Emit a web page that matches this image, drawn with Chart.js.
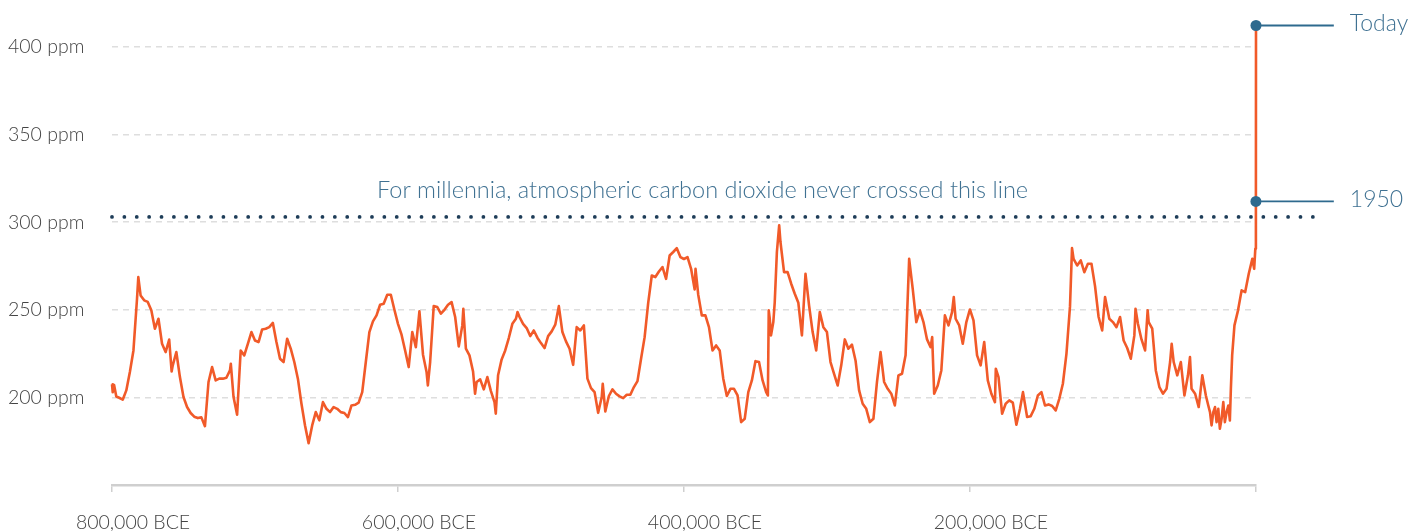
<!DOCTYPE html>
<html>
<head>
<meta charset="utf-8">
<title>Atmospheric carbon dioxide, 800,000 BCE to today</title>
<script src="https://cdn.jsdelivr.net/npm/chart.js@4.4.0/dist/chart.umd.min.js"></script>
<style>
	html, body { margin: 0; padding: 0; background: #fff; }
	#wrap { width: 1426px; height: 531px; }
</style>
</head>
<body>
<div id="wrap"><canvas id="co2Chart" width="1426" height="531"></canvas></div>
<script>
// Age in thousands of years relative to 1950 (negative = before)
const ages = [
	-800, -799.5, -798.5, -797, -795, -792.5, -790, -787.5, -785, -782.5,
	-781.6, -780, -777.5, -775, -772.5, -770, -767.5, -765, -762.5, -760,
	-758.3, -757.5, -755, -752.5, -750, -747.5, -745, -742.5, -740, -737.5,
	-735, -732.5, -730, -727.5, -725, -722.5, -720, -717.5, -716.9, -715,
	-712.5, -710, -707.5, -705, -702.5, -700, -697.5, -695, -692.5, -690,
	-687.5, -685, -682.5, -680, -677.5, -675, -672.5, -670, -667.5, -665,
	-662.5, -660, -657.5, -655, -652.5, -650, -647.5, -645, -642.5, -640,
	-637.5, -635, -632.5, -630, -627.5, -625, -622.5, -620, -617.5, -615,
	-612.5, -610, -607.5, -605, -602.5, -600, -597.5, -595, -592.5, -590,
	-587.5, -585, -582.5, -580, -579.1, -577.5, -575, -572.5, -570, -567.5,
	-565, -562.5, -560, -557.5, -555, -554.3, -552.5, -550, -547.5, -546.1,
	-545, -542.5, -540, -537.5, -535, -532.5, -531.6, -530, -527.5, -525,
	-522.5, -520, -517.5, -516.4, -515, -512.5, -510, -507.5, -505, -502.5,
	-500, -497.5, -495, -492.5, -490, -487.5, -485, -482.5, -480, -477.5,
	-475, -472.5, -470, -467.5, -465, -462.5, -460, -457.5, -456.8, -455,
	-452.5, -450, -447.5, -445, -442.5, -440, -437.5, -435, -432.5, -430,
	-427.5, -425, -422.5, -420, -417.5, -415, -412.5, -410, -407.5, -405,
	-402.5, -400, -397.5, -395, -392.5, -391.9, -390, -387.5, -385, -382.5,
	-380, -377.5, -375, -372.5, -370, -367.5, -365, -362.5, -360, -357.5,
	-355, -352.5, -350, -347.5, -345, -342.5, -341.3, -340.7, -340, -339.1,
	-337.5, -336.5, -335, -333.4, -332.5, -330, -327.5, -325, -322.5, -320,
	-317.5, -315, -312.5, -310, -307.5, -305, -302.5, -300, -297.5, -295,
	-292.5, -290, -287.5, -285, -282.5, -280, -277.5, -275, -272.5, -270,
	-267.5, -265, -262.5, -260, -257.5, -255, -252.5, -250, -247.5, -245,
	-242.5, -240, -237.5, -235, -232.5, -230, -227.5, -226.4, -225, -222.5,
	-220, -217.5, -215, -212.5, -211.3, -210, -207.5, -205, -202.5, -200,
	-197.5, -195, -192.5, -190, -187.5, -185, -182.5, -181.9, -180, -177.5,
	-175, -172.5, -170, -167.5, -165, -162.9, -160, -157.5, -155, -152.5,
	-150, -147.5, -145, -142.5, -140, -137.5, -135, -132.5, -130, -128.6,
	-127.5, -125, -122.5, -120, -117.5, -115, -112.5, -110, -107.5, -105.5,
	-102.5, -100, -97.5, -95, -92.5, -90, -87.5, -85, -84.2, -82.5,
	-80, -77.5, -75.7, -75, -72.5, -70, -67.5, -65, -62.5, -60,
	-58.9, -57.5, -55, -52.5, -50, -47.5, -46.1, -45, -42.5, -40,
	-37.5, -35, -33.3, -32.1, -31, -29.8, -28.6, -27.5, -26.3, -25.2,
	-24, -22.8, -21.7, -20.5, -19.3, -18.2, -17.5, -16.6, -15, -12.5,
	-10, -7.5, -5, -2.5, -1.2, -0.4, 0, 0.07,
];

// CO2 concentration in ppm, one value per age above
const co2 = [
	207.5, 203.0, 207.0, 200.5, 199.8, 198.7, 204.0, 214.5, 226.8, 256.3,
	268.7, 258.2, 255.4, 254.5, 249.7, 239.2, 244.9, 230.6, 225.9, 233.0,
	214.8, 218.3, 225.9, 211.6, 200.2, 194.5, 191.1, 189.0, 188.2, 188.6,
	183.6, 208.8, 217.3, 209.7, 210.7, 210.7, 211.2, 215.4, 219.2, 200.2,
	190.1, 226.8, 224.0, 230.6, 237.3, 232.5, 231.6, 238.8, 239.2, 240.1,
	242.5, 231.6, 222.1, 220.2, 233.5, 227.8, 220.2, 210.7, 196.4, 184.0,
	173.9, 184.0, 191.6, 186.9, 197.3, 193.5, 191.6, 194.5, 193.5, 191.6,
	191.1, 188.8, 195.4, 195.8, 197.0, 203.0, 220.2, 237.3, 243.4, 246.8,
	252.9, 253.5, 258.6, 258.6, 250.0, 242.0, 235.8, 226.8, 217.3, 237.3,
	228.7, 249.1, 224.4, 214.5, 206.8, 220.2, 252.1, 251.6, 247.8, 250.0,
	252.9, 254.4, 245.9, 229.1, 241.1, 250.6, 227.8, 224.0, 214.8, 202.1,
	208.8, 210.3, 204.6, 211.6, 203.6, 197.3, 190.7, 212.6, 221.7, 226.8,
	233.9, 242.0, 244.9, 248.7, 245.9, 242.0, 239.6, 235.0, 238.2, 234.1,
	231.0, 228.2, 235.0, 237.7, 241.5, 252.1, 237.3, 232.0, 227.8, 218.6,
	240.1, 238.2, 241.1, 210.7, 205.3, 203.0, 191.2, 200.2, 207.8, 192.0,
	200.8, 204.6, 202.1, 200.6, 199.6, 201.5, 201.5, 205.9, 209.3, 222.1,
	234.4, 254.0, 269.6, 268.7, 271.9, 274.4, 267.7, 281.0, 283.0, 285.2,
	280.1, 279.0, 280.1, 273.4, 261.6, 273.4, 258.6, 246.8, 246.8, 240.1,
	226.8, 229.7, 226.8, 210.7, 200.8, 204.9, 204.9, 201.1, 185.9, 187.8,
	203.0, 209.7, 220.7, 220.2, 209.7, 203.0, 201.1, 249.7, 244.9, 235.4,
	243.0, 254.4, 283.0, 298.2, 288.7, 271.5, 271.5, 264.9, 259.2, 254.0,
	235.4, 270.6, 252.5, 237.3, 226.8, 248.7, 240.1, 237.3, 220.2, 213.5,
	206.8, 218.3, 233.1, 227.8, 230.1, 221.1, 204.0, 196.4, 193.5, 185.9,
	187.8, 208.8, 225.9, 208.8, 204.9, 202.1, 195.4, 212.6, 213.5, 224.0,
	279.1, 262.0, 243.0, 249.7, 243.0, 233.1, 228.7, 234.4, 202.1, 206.8,
	215.4, 246.8, 241.1, 248.7, 257.3, 244.9, 241.1, 230.6, 243.0, 250.2,
	244.0, 224.0, 218.3, 231.6, 209.7, 202.1, 197.3, 216.4, 211.6, 190.7,
	196.4, 198.3, 197.0, 184.4, 193.5, 203.0, 188.8, 189.3, 193.5, 201.1,
	203.0, 195.4, 196.0, 195.1, 192.6, 199.2, 207.8, 224.9, 252.1, 285.2,
	279.1, 275.3, 278.2, 271.5, 276.3, 276.3, 263.5, 245.9, 238.2, 257.3,
	244.9, 243.0, 240.1, 245.9, 232.5, 228.2, 222.1, 235.4, 250.6, 242.0,
	233.1, 226.8, 249.7, 243.0, 239.2, 215.4, 205.9, 202.1, 204.9, 220.2,
	230.6, 220.2, 212.6, 220.2, 201.1, 212.6, 223.0, 204.9, 202.1, 194.5,
	212.6, 201.1, 195.4, 191.6, 184.0, 191.6, 194.5, 185.9, 193.5, 182.1,
	187.8, 197.3, 185.9, 191.6, 195.4, 186.9, 204.9, 224.0, 241.1, 249.7,
	261.1, 260.1, 270.6, 279.1, 273.4, 284.9, 311.9, 412.3,
];

// Labelled points: the last two readings of the series
const markerLabels = ["1950", "Today"];

// Dotted reference line and its caption
const limitPpm = 303;
const limitAges = [-800, 41];
const limitNote = "For millennia, atmospheric carbon dioxide never crossed this line";
const noteAge = -387;
const leaderEndAge = 54.5;

const xTicks = [-800, -600, -400, -200, 0];
const yTicks = [200, 250, 300, 350, 400];

const orange = "#f15a29";
const navy = "#1e3d58";
const teal = "#2e6a8e";
const labelTeal = "#3f7192";

Chart.defaults.font.family = "Lato, 'Open Sans', sans-serif";
Chart.defaults.color = "#555";

// Draws the caption above the dotted line and the marker names
const textPlugin = {
	id: "textLabels",
	afterDatasetsDraw(chart) {
		const { ctx, scales } = chart;
		const x = scales.x;
		const y = scales.y;
		ctx.save();
		ctx.fillStyle = labelTeal;
		ctx.textBaseline = "middle";

		ctx.font = "300 23.5px Lato, sans-serif";
		ctx.textAlign = "center";
		ctx.fillText(limitNote, x.getPixelForValue(noteAge), y.getPixelForValue(limitPpm) - 27);

		ctx.font = "300 23px Lato, sans-serif";
		ctx.textAlign = "left";
		const n = co2.length;
		markerLabels.forEach((label, i) => {
			const ppm = co2[n - 2 + i];
			ctx.fillText(label, x.getPixelForValue(leaderEndAge) + 16, y.getPixelForValue(ppm) - 2);
		});
		ctx.restore();
	},
};

// Line from a marker dot out to its label
function leaderDataset(age, ppm) {
	return {
		data: [
			{ x: age, y: ppm },
			{ x: leaderEndAge, y: ppm },
		],
		borderColor: teal,
		borderWidth: 1.8,
		pointRadius: [5.5, 0],
		pointBackgroundColor: teal,
		pointBorderWidth: 0,
		clip: false,
		order: 0,
	};
}

function createCo2Chart(ctx) {
	const n = ages.length;
	const series = ages.map((a, i) => ({ x: a, y: co2[i] }));

	return new Chart(ctx, {
		type: "line",
		data: {
			datasets: [
				{
					data: series,
					borderColor: orange,
					borderWidth: 2.6,
					borderJoinStyle: "round",
					pointRadius: 0,
					tension: 0,
					clip: false,
					order: 2,
				},
				{
					data: limitAges.map((a) => ({ x: a, y: limitPpm })),
					borderColor: navy,
					borderWidth: 3.8,
					borderDash: [0, 12.38],
					borderCapStyle: "round",
					pointRadius: 0,
					clip: false,
					order: 1,
				},
				leaderDataset(ages[n - 2], co2[n - 2]),
				leaderDataset(ages[n - 1], co2[n - 1]),
			],
		},
		options: {
			responsive: false,
			animation: false,
			layout: {
				padding: { left: 8, right: 170, top: 12, bottom: 0 },
			},
			plugins: {
				legend: { display: false },
				tooltip: { enabled: false },
			},
			scales: {
				x: {
					type: "linear",
					min: -800,
					max: ages[n - 1],
					afterBuildTicks: (scale) => {
						scale.ticks = xTicks.map((v) => ({ value: v }));
					},
					afterFit: (scale) => {
						scale.height = 46;
					},
					grid: {
						drawOnChartArea: false,
						drawTicks: true,
						tickLength: 7,
						color: "#cfcfcf",
						lineWidth: 1.5,
					},
					border: { display: true, color: "#cfcfcf", width: 2.5 },
					ticks: {
						autoSkip: false,
						maxRotation: 0,
						padding: 19,
						labelOffset: 21,
						font: { size: 19.5, weight: "300" },
						color: "#444",
						callback: (v) => (v === 0 ? "" : (-v * 1000).toLocaleString("en-US") + " BCE"),
					},
				},
				y: {
					type: "linear",
					min: 150,
					max: 420,
					afterBuildTicks: (scale) => {
						scale.ticks = yTicks.map((v) => ({ value: v }));
					},
					afterFit: (scale) => {
						scale.width = 104;
					},
					grid: {
						drawTicks: false,
						color: "#dedede",
						lineWidth: 1.5,
					},
					border: { display: false, dash: [6, 5] },
					ticks: {
						crossAlign: "far",
						padding: 0,
						font: { size: 19.5, weight: "300" },
						color: "#444",
						callback: (v) => v + " ppm",
					},
				},
			},
		},
		plugins: [textPlugin],
	});
}

createCo2Chart(document.getElementById("co2Chart"));
</script>
</body>
</html>
